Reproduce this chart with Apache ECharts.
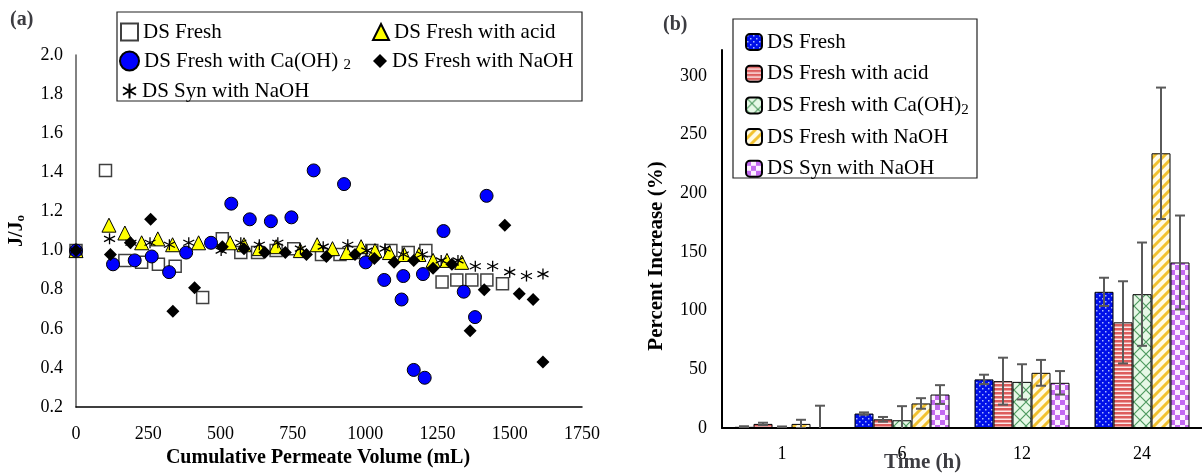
<!DOCTYPE html>
<html lang="en">
<head>
<meta charset="UTF-8">
<title>J/J0 and percent increase</title>
<script src="https://cdn.jsdelivr.net/npm/echarts@6/dist/echarts.min.js"></script>
<style>
    html, body { margin: 0; padding: 0; background: #fff; }
    #main { width: 1202px; height: 473px; }
</style>
</head>
<body>
<div id="main"></div>
<script type="text/javascript">
    // ---- (a) normalised flux vs cumulative permeate volume ----
    var freshX = [0, 102, 169, 227, 285, 343, 438, 506, 570, 628, 692, 753, 849, 913, 960, 1023, 1089, 1149, 1210, 1266, 1317, 1369, 1421, 1475];
    var freshY = [1.00, 1.41, 0.95, 0.94, 0.93, 0.92, 0.76, 1.06, 0.99, 0.99, 1.00, 1.01, 0.98, 0.98, 0.99, 1.00, 1.00, 0.99, 1.00, 0.84, 0.85, 0.85, 0.85, 0.83];

    var acidX = [0, 114, 169, 227, 283, 334, 424, 533, 581, 634, 692, 776, 834, 887, 936, 986, 1034, 1084, 1135, 1186, 1235, 1283, 1334];
    var acidY = [1.00, 1.13, 1.09, 1.04, 1.06, 1.03, 1.04, 1.04, 1.03, 1.01, 1.02, 1.00, 1.03, 1.01, 0.99, 1.02, 1.00, 0.99, 0.98, 0.98, 0.95, 0.95, 0.94];

    var caX = [0, 128, 203, 262, 322, 381, 467, 537, 601, 674, 745, 822, 927, 1002, 1066, 1126, 1132, 1168, 1200, 1206, 1271, 1341, 1380, 1420];
    var caY = [1.00, 0.93, 0.95, 0.97, 0.89, 0.99, 1.04, 1.24, 1.16, 1.15, 1.17, 1.41, 1.34, 0.94, 0.85, 0.75, 0.87, 0.39, 0.88, 0.35, 1.10, 0.79, 0.66, 1.28];

    var naohX = [0, 119, 188, 258, 335, 410, 506, 581, 653, 724, 797, 866, 965, 1032, 1100, 1168, 1235, 1300, 1363, 1412, 1483, 1533, 1581, 1615];
    var naohY = [1.00, 0.98, 1.04, 1.16, 0.69, 0.81, 1.02, 1.01, 0.99, 0.99, 0.98, 0.97, 0.98, 0.96, 0.94, 0.95, 0.91, 0.93, 0.59, 0.80, 1.13, 0.78, 0.75, 0.43];

    var synX = [0, 116, 190, 256, 323, 390, 502, 570, 634, 698, 776, 855, 940, 1006, 1069, 1132, 1198, 1263, 1321, 1381, 1441, 1500, 1558, 1615];
    var synY = [1.00, 1.06, 1.04, 1.04, 1.03, 1.04, 1.00, 1.04, 1.03, 1.04, 1.01, 1.02, 1.03, 1.00, 1.01, 0.98, 0.98, 0.95, 0.95, 0.92, 0.92, 0.89, 0.87, 0.88];

    // ---- (b) percent increase vs time ----
    var hours = ['1', '6', '12', '24'];
    var freshPct = [1, 12.3, 41.4, 116];
    var acidPct = [3.5, 7.4, 39.9, 90];
    var caPct = [0.8, 6.6, 39.3, 114];
    var naohPct = [3.5, 20.9, 47, 234];
    var synPct = [0, 28.5, 38.5, 141];

    var freshErr = [0.5, 1, 4, 12];
    var acidErr = [1, 2, 20, 35];
    var caErr = [0.5, 12, 15, 44];
    var naohErr = [3.5, 4.5, 11, 56];
    var synErr = [19, 8, 10, 40];

    var FONT = 'Liberation Serif';
    var BAR_W = 19;

    function zip(xs, ys) {
        return xs.map(function (x, i) { return [x, ys[i]]; });
    }

    function pattern(w, h, draw) {
        var c = document.createElement('canvas');
        c.width = w;
        c.height = h;
        draw(c.getContext('2d'), w, h);
        return {image: c, repeat: 'repeat'};
    }

    var bluePat = pattern(6, 6, function (ctx) {
        ctx.fillStyle = '#0010e8';
        ctx.fillRect(0, 0, 6, 6);
        ctx.fillStyle = '#a8b8ff';
        ctx.fillRect(1, 1, 1.5, 1.5);
        ctx.fillRect(4, 4, 1.5, 1.5);
    });
    var redPat = pattern(4, 4, function (ctx) {
        ctx.fillStyle = '#fde8e8';
        ctx.fillRect(0, 0, 4, 4);
        ctx.fillStyle = '#dd5c5c';
        ctx.fillRect(0, 0, 4, 2.5);
    });
    var greenPat = pattern(12, 12, function (ctx) {
        ctx.fillStyle = '#e6f8e6';
        ctx.fillRect(0, 0, 12, 12);
        ctx.strokeStyle = '#4f9a60';
        ctx.lineWidth = 1.2;
        ctx.beginPath();
        ctx.moveTo(-1, -1); ctx.lineTo(13, 13);
        ctx.moveTo(13, -1); ctx.lineTo(-1, 13);
        ctx.stroke();
    });
    var yellowPat = pattern(10, 10, function (ctx) {
        ctx.fillStyle = '#fffbe6';
        ctx.fillRect(0, 0, 10, 10);
        ctx.strokeStyle = '#f2c230';
        ctx.lineWidth = 3;
        ctx.beginPath();
        ctx.moveTo(-5, 5); ctx.lineTo(5, -5);
        ctx.moveTo(0, 10); ctx.lineTo(10, 0);
        ctx.moveTo(5, 15); ctx.lineTo(15, 5);
        ctx.stroke();
    });
    var purplePat = pattern(10, 10, function (ctx) {
        ctx.fillStyle = '#fdf0ff';
        ctx.fillRect(0, 0, 10, 10);
        ctx.fillStyle = '#c36af0';
        ctx.fillRect(0, 0, 5, 5);
        ctx.fillRect(5, 5, 5, 5);
    });

    var barNames = ['DS Fresh ', 'DS Fresh with acid ', 'DS Fresh with Ca(OH)2 ', 'DS Fresh with NaOH ', 'DS Syn with NaOH '];
    var barVals = [freshPct, acidPct, caPct, naohPct, synPct];
    var barErrs = [freshErr, acidErr, caErr, naohErr, synErr];
    var barPats = [bluePat, redPat, greenPat, yellowPat, purplePat];

    var errData = [];
    barVals.forEach(function (vals, s) {
        vals.forEach(function (v, c) {
            errData.push([c, s, v, barErrs[s][c]]);
        });
    });

    var asterisk = 'path://M5 0L5 10M0.67 2.5L9.33 7.5M0.67 7.5L9.33 2.5';

    var labelStyle = {fontFamily: FONT, fontSize: 18, color: '#000'};
    var legendText = {fontFamily: FONT, fontSize: 21, color: '#000', lineHeight: 24,
        rich: {sub: {fontFamily: FONT, fontSize: 15, lineHeight: 24, padding: [9, 0, 0, 0]}}};

    function subFormat(name) {
        if (name === 'DS Fresh with Ca(OH)2') return 'DS Fresh with Ca(OH) {sub|2}';
        if (name === 'DS Fresh with Ca(OH)2 ') return 'DS Fresh with Ca(OH){sub|2}';
        return name;
    }

    function oneLegend(name, left, top, size) {
        return {
            data: [name], left: left, top: top, padding: 0,
            itemWidth: size, itemHeight: size, itemGap: 0,
            textStyle: legendText, formatter: subFormat, selectedMode: false
        };
    }

    var myChart = echarts.init(document.getElementById('main'));

    var barSeries = barNames.map(function (n, s) {
        return {
            name: n, type: 'bar', xAxisIndex: 1, yAxisIndex: 1,
            data: barVals[s], barWidth: BAR_W, barGap: '0%',
            itemStyle: {color: barPats[s], borderColor: '#000', borderWidth: 1}
        };
    });

    myChart.setOption({
        animation: false,
        title: [
            {text: '(a)', left: 10, top: 10, padding: 0, textStyle: {fontFamily: FONT, fontSize: 20, fontWeight: 'bold'}},
            {text: '(b)', left: 663, top: 15, padding: 0, textStyle: {fontFamily: FONT, fontSize: 20, fontWeight: 'bold'}},
            {text: 'Time (h)', left: 884, top: 452, padding: 0, textStyle: {fontFamily: FONT, fontSize: 21, fontWeight: 'bold'}}
        ],
        graphic: [
            {type: 'rect', shape: {x: 117, y: 12, width: 465, height: 89}, style: {fill: 'none', stroke: '#222', lineWidth: 1.2}, z: 100},
            {type: 'rect', shape: {x: 733, y: 19, width: 244, height: 159}, style: {fill: '#fff', stroke: '#222', lineWidth: 1.2}, z: 1}
        ],
        legend: [
            oneLegend('DS Fresh', 120, 20, 17),
            oneLegend('DS Fresh with Ca(OH)2', 119, 49, 19),
            oneLegend('DS Syn with NaOH', 122, 79, 15),
            oneLegend('DS Fresh with acid', 372, 20, 16),
            oneLegend('DS Fresh with NaOH', 373, 49, 14),
            {
                data: barNames, left: 745, top: 30, orient: 'vertical', padding: 0,
                itemWidth: 16, itemHeight: 16, itemGap: 7.7, z: 10,
                textStyle: legendText, formatter: subFormat, selectedMode: false
            }
        ],
        grid: [
            {left: 76, top: 55, width: 506, height: 367},
            {left: 722, top: 50, width: 492, height: 378}
        ],
        xAxis: [
            {
                type: 'value', gridIndex: 0, min: 0, max: 1750, interval: 250,
                name: 'Cumulative Permeate Volume (mL)', nameLocation: 'middle', nameGap: 30,
                nameTextStyle: {fontFamily: FONT, fontSize: 20, fontWeight: 'bold', color: '#000', padding: [0, 22, 0, 0]},
                axisLine: {lineStyle: {color: '#000', width: 1.5}},
                axisTick: {show: false}, splitLine: {show: false},
                axisLabel: Object.assign({margin: 18, formatter: function (v) { return String(v); }}, labelStyle)
            },
            {
                type: 'category', gridIndex: 1, data: hours,
                axisLine: {lineStyle: {color: '#000', width: 2}},
                axisTick: {show: false}, splitLine: {show: false},
                axisLabel: Object.assign({margin: 17}, labelStyle)
            }
        ],
        yAxis: [
            {
                type: 'value', gridIndex: 0, min: 0.2, max: 2.0, interval: 0.2,
                name: 'J/J{sub|o}', nameLocation: 'middle', nameGap: 49,
                nameTextStyle: {fontFamily: FONT, fontSize: 20, fontWeight: 'bold', color: '#000',
                    rich: {sub: {fontFamily: FONT, fontSize: 13, fontWeight: 'bold', padding: [8, 0, 0, 0]}}},
                axisLine: {show: true, lineStyle: {color: '#595959', width: 1.5}},
                axisTick: {show: false}, splitLine: {show: false},
                axisLabel: Object.assign({margin: 13, formatter: function (v) { return v.toFixed(1); }}, labelStyle)
            },
            {
                type: 'value', gridIndex: 1, min: 0, max: 322, interval: 50,
                name: 'Percent Increase (%)', nameLocation: 'middle', nameGap: 55,
                nameTextStyle: {fontFamily: FONT, fontSize: 21, fontWeight: 'bold', color: '#000', padding: [0, 34, 0, 0]},
                axisLine: {show: true, lineStyle: {color: '#000', width: 2}},
                axisTick: {show: false}, splitLine: {show: false},
                axisLabel: Object.assign({margin: 15, showMaxLabel: false}, labelStyle)
            }
        ],
        series: [
            {
                name: 'DS Fresh', type: 'scatter', data: zip(freshX, freshY),
                symbol: 'rect', symbolSize: 12,
                itemStyle: {color: '#fff', borderColor: '#404040', borderWidth: 1.5, opacity: 1}
            },
            {
                name: 'DS Fresh with acid', type: 'scatter', data: zip(acidX, acidY),
                symbol: 'triangle', symbolSize: 14,
                itemStyle: {color: '#ffff00', borderColor: '#000', borderWidth: 1, opacity: 1}
            },
            {
                name: 'DS Fresh with Ca(OH)2', type: 'scatter', data: zip(caX, caY),
                symbol: 'circle', symbolSize: 13,
                itemStyle: {color: '#0000ff', borderColor: '#000', borderWidth: 1, opacity: 1}
            },
            {
                name: 'DS Fresh with NaOH', type: 'scatter', data: zip(naohX, naohY),
                symbol: 'diamond', symbolSize: 13,
                itemStyle: {color: '#000', opacity: 1}
            },
            {
                name: 'DS Syn with NaOH', type: 'scatter', data: zip(synX, synY),
                symbol: asterisk, symbolSize: 11,
                itemStyle: {color: 'transparent', borderColor: '#000', borderWidth: 1.3, opacity: 1}
            }
        ].concat(barSeries).concat([
            {
                type: 'custom', xAxisIndex: 1, yAxisIndex: 1, clip: true, z: 5,
                encode: {x: 0, y: 2},
                data: errData,
                renderItem: function (params, api) {
                    var c = api.value(0), s = api.value(1), v = api.value(2), e = api.value(3);
                    var top = api.coord([c, v + e]);
                    var bot = api.coord([c, v - e]);
                    var x = top[0] + (s - 2) * BAR_W;
                    var st = {stroke: '#5a5a5a', lineWidth: 2};
                    return {
                        type: 'group', children: [
                            {type: 'line', shape: {x1: x, y1: top[1], x2: x, y2: bot[1]}, style: st},
                            {type: 'line', shape: {x1: x - 5, y1: top[1], x2: x + 5, y2: top[1]}, style: st},
                            {type: 'line', shape: {x1: x - 5, y1: bot[1], x2: x + 5, y2: bot[1]}, style: st}
                        ]
                    };
                }
            }
        ])
    });
</script>
</body>
</html>
